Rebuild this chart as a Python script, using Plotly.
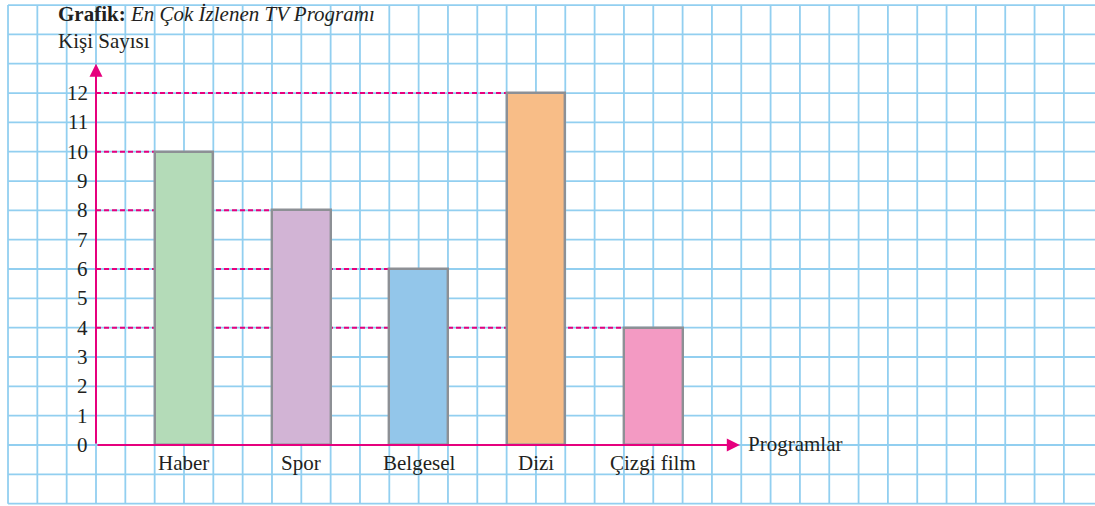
import plotly.graph_objects as go

# Data
programs = ["Haber", "Spor", "Belgesel", "Dizi", "Çizgi film"]
viewers = [10, 8, 6, 12, 4]
bar_colors = ["#b4dbb8", "#d2b4d5", "#93c6ea", "#f8bd87", "#f39ac3"]
y_ticks = list(range(0, 13))

# Layout geometry (one grid square = 1 data unit)
W, H = 1095, 506
cell = 29.33
origin_px = (96, 445)
x_range = [-origin_px[0] / cell, (W - origin_px[0]) / cell]
y_range = [-(H - origin_px[1]) / cell, origin_px[1] / cell]

PINK = "#e6007e"
GRID = "#92cff0"
EDGE = "#8d9095"
FONT = "Liberation Serif"
TXT = "#231f20"
FS = 21

bar_x = [3 + 4 * i for i in range(len(programs))]

fig = go.Figure()
fig.add_trace(go.Bar(
    x=bar_x, y=viewers, width=2,
    marker=dict(color=bar_colors, line=dict(color=EDGE, width=2.4)),
    hoverinfo="skip", showlegend=False,
))

shapes = []
# graph-paper grid
gx0, gx1, gy0, gy1 = -3, 33, -2, 15
for i in range(gx0, gx1 + 1):
    shapes.append(dict(type="line", xref="x", yref="y", x0=i, x1=i, y0=gy0, y1=gy1,
                       line=dict(color=GRID, width=1.8), layer="below"))
for j in range(gy0, gy1 + 1):
    shapes.append(dict(type="line", xref="x", yref="y", x0=gx0, x1=x_range[1] + 1, y0=j, y1=j,
                       line=dict(color=GRID, width=1.8), layer="below"))
# dashed guide lines from the axis to each bar
for bx, v in zip(bar_x, viewers):
    shapes.append(dict(type="line", xref="x", yref="y", x0=0, x1=bx - 1, y0=v, y1=v,
                       line=dict(color=PINK, width=2, dash="5px,3px"), layer="below"))

annotations = []
# axes with arrowheads
annotations.append(dict(x=0, y=13.0, ax=0, ay=0, xref="x", yref="y", axref="x", ayref="y",
                        showarrow=True, arrowhead=2, arrowsize=1.3, arrowwidth=2,
                        arrowcolor=PINK, text=""))
annotations.append(dict(x=21.95, y=0, ax=0, ay=0, xref="x", yref="y", axref="x", ayref="y",
                        showarrow=True, arrowhead=2, arrowsize=1.3, arrowwidth=2,
                        arrowcolor=PINK, text=""))
# y tick labels
for t in y_ticks:
    annotations.append(dict(x=-0.22, y=t, xref="x", yref="y", text=str(t), showarrow=False,
                            xanchor="right", yanchor="middle",
                            font=dict(family=FONT, size=FS, color=TXT)))
# category labels
for bx, name in zip(bar_x, programs):
    annotations.append(dict(x=bx, y=-0.15, xref="x", yref="y", text=name, showarrow=False,
                            xanchor="center", yanchor="top",
                            font=dict(family=FONT, size=FS, color=TXT)))
# axis titles and heading
annotations.append(dict(x=22.15, y=0.05, xref="x", yref="y", text="Programlar", showarrow=False,
                        xanchor="left", yanchor="middle", font=dict(family=FONT, size=FS, color=TXT)))
annotations.append(dict(x=-1.35, y=13.3, xref="x", yref="y", text="Kişi Sayısı", showarrow=False,
                        xanchor="left", yanchor="bottom", font=dict(family=FONT, size=FS, color=TXT)))
annotations.append(dict(x=-1.35, y=14.22, xref="x", yref="y",
                        text="<b>Grafik:</b> <i>En Çok İzlenen TV Programı</i>", showarrow=False,
                        xanchor="left", yanchor="bottom", font=dict(family=FONT, size=FS, color=TXT)))

fig.update_layout(
    width=W, height=H,
    margin=dict(l=0, r=0, t=0, b=0),
    paper_bgcolor="white", plot_bgcolor="white",
    xaxis=dict(range=x_range, visible=False, fixedrange=True),
    yaxis=dict(range=y_range, visible=False, fixedrange=True),
    shapes=shapes, annotations=annotations,
    bargap=0,
)

fig.write_html("out.html")
